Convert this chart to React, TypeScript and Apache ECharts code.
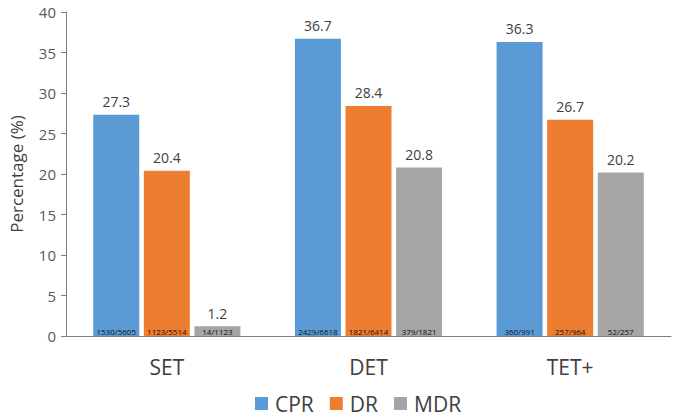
import React, { useEffect, useRef } from "react";
import * as echarts from "echarts";

const categories = ["SET", "DET", "TET+"];
const seriesNames = ["CPR", "DR", "MDR"];
const cprValues = [27.3, 36.7, 36.3];
const drValues = [20.4, 28.4, 26.7];
const mdrValues = [1.2, 20.8, 20.2];
const cprCounts = ["1530/5605", "2429/6618", "360/991"];
const drCounts = ["1123/5514", "1821/6414", "257/964"];
const mdrCounts = ["14/1123", "379/1821", "52/257"];
const colors = ["#5B9BD5", "#ED7D31", "#A5A5A5"];

const FONT = "'Open Sans', 'Noto Sans', sans-serif";

export default function App() {
  const ref = useRef<HTMLDivElement>(null);
  useEffect(() => {
    if (!ref.current) return;
    const chart = echarts.init(ref.current, undefined, { renderer: "svg" });
    const values = [cprValues, drValues, mdrValues];
    const counts = [cprCounts, drCounts, mdrCounts];
    const series: any[] = [];
    seriesNames.forEach((name, i) => {
      series.push({
        name,
        type: "bar",
        stack: "s" + i,
        data: values[i],
        itemStyle: { color: colors[i] },
        barWidth: 46,
        barGap: "10%",
        label: {
          show: true,
          position: "insideBottom",
          distance: 1,
          fontSize: 8,
          fontFamily: FONT,
          color: "#111",
          formatter: (p: any) => counts[i][p.dataIndex],
        },
      });
      series.push({
        name: name + "_top",
        type: "bar",
        stack: "s" + i,
        data: values[i].map(() => 0),
        itemStyle: { color: "transparent" },
        barWidth: 46,
        barGap: "10%",
        label: {
          show: true,
          position: "top",
          distance: 6,
          fontSize: 14,
          fontFamily: FONT,
          color: "#404040",
          formatter: (p: any) => values[i][p.dataIndex].toFixed(1),
        },
      });
    });
    chart.setOption({
      animation: false,
      textStyle: { fontFamily: FONT },
      grid: { left: 62, right: 5, top: 12, bottom: 82 },
      legend: {
        data: seriesNames,
        bottom: -1,
        left: 250,
        itemWidth: 13,
        itemHeight: 13,
        itemGap: 16,
        icon: "rect",
        textStyle: { fontSize: 21, color: "#404040", fontFamily: FONT, padding: [0, 0, 0, 2] },
      },
      xAxis: {
        type: "category",
        data: categories,
        axisLine: { lineStyle: { color: "#7f7f7f", width: 1 } },
        axisTick: { show: false },
        axisLabel: { fontSize: 21, color: "#404040", margin: 20, fontFamily: FONT },
      },
      yAxis: {
        type: "value",
        min: 0,
        max: 40,
        interval: 5,
        name: "Percentage (%)",
        nameLocation: "middle",
        nameGap: 41,
        nameTextStyle: { fontSize: 17, color: "#404040", fontFamily: FONT },
        axisLine: { show: true, lineStyle: { color: "#7f7f7f" } },
        axisTick: { show: true, length: 5, lineStyle: { color: "#7f7f7f" } },
        splitLine: { show: false },
        axisLabel: { fontSize: 15, color: "#595959", margin: 10, fontFamily: FONT },
      },
      series,
    });
    return () => chart.dispose();
  }, []);
  return (
    <div
      ref={ref}
      style={{ position: "fixed", left: 0, top: 0, width: 676, height: 418, background: "#fff" }}
    />
  );
}
